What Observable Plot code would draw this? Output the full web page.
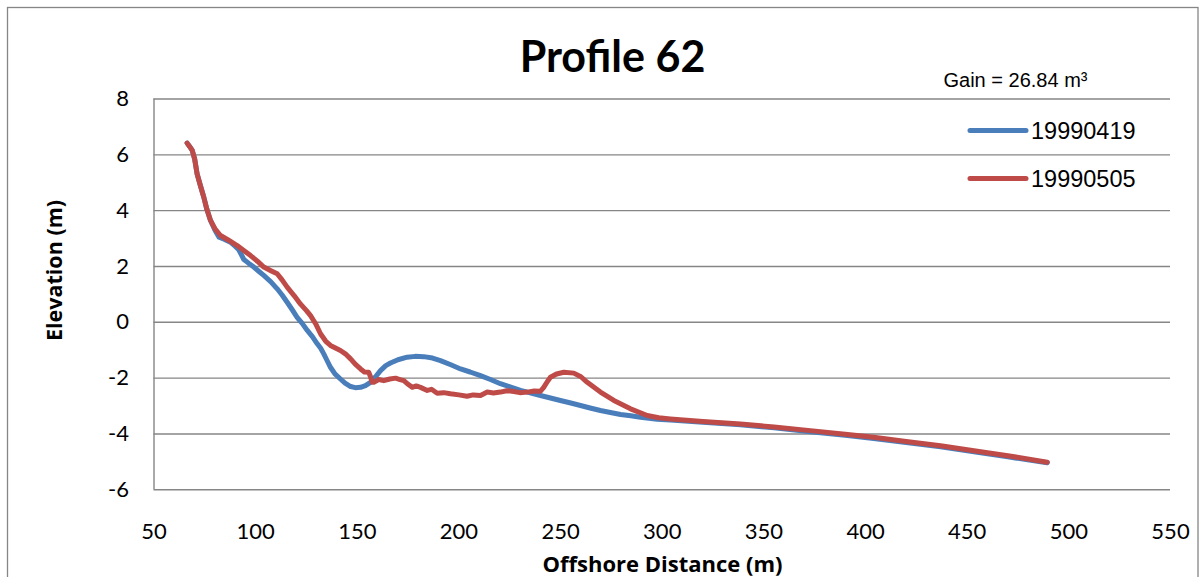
<!DOCTYPE html>
<html>
<head>
<meta charset="utf-8">
<script src="https://cdn.jsdelivr.net/npm/d3@7"></script>
<script src="https://cdn.jsdelivr.net/npm/@observablehq/plot@0.6"></script>
<style>
  html, body { margin: 0; padding: 0; background: #fff; }
</style>
</head>
<body>
<div id="chart"></div>
<script>
// ---- data ----
const titleText = "Profile 62";
const gainText = "Gain = 26.84 m³";
const xLabel = "Offshore Distance (m)";
const yLabel = "Elevation (m)";
const seriesNames = ["19990419", "19990505"];
const seriesColors = ["#4A7EBB", "#BE4B48"];
const xTicks = [50, 100, 150, 200, 250, 300, 350, 400, 450, 500, 550];
const yTicks = [-6, -4, -2, 0, 2, 4, 6, 8];

const dist19990419 = [66.3, 67.5, 68.8, 70.0, 71.2, 72.8, 74.5, 76.0, 77.8, 80.0, 82.0, 84.5, 87.6, 90.0, 91.7, 93.0, 94.2, 96.5, 99.1, 101.5, 104.0, 107.5, 110.6, 113.0, 115.5, 118.0, 120.4, 122.8, 125.4, 128.0, 130.3, 132.0, 133.5, 135.0, 136.8, 139.0, 141.7, 144.0, 146.7, 149.0, 151.6, 154.0, 156.5, 159.0, 161.4, 164.0, 166.3, 170.0, 174.5, 178.5, 182.7, 187.0, 190.9, 196.0, 200.8, 205.5, 210.6, 215.5, 220.4, 225.5, 230.3, 235.0, 240.1, 245.0, 249.9, 255.0, 259.8, 264.5, 269.6, 274.5, 279.5, 284.5, 289.3, 297.5, 304.0, 320.0, 338.5, 355.0, 372.9, 390.0, 404.0, 420.0, 436.9, 455.0, 470.0, 489.4];
const elev19990419 = [6.42, 6.30, 6.16, 5.85, 5.32, 4.90, 4.48, 4.05, 3.65, 3.30, 3.05, 2.98, 2.87, 2.72, 2.60, 2.42, 2.25, 2.12, 1.98, 1.83, 1.68, 1.45, 1.20, 0.98, 0.72, 0.45, 0.18, -0.03, -0.29, -0.52, -0.77, -0.93, -1.13, -1.35, -1.61, -1.85, -2.03, -2.18, -2.30, -2.34, -2.33, -2.27, -2.15, -1.95, -1.73, -1.55, -1.46, -1.34, -1.25, -1.22, -1.23, -1.28, -1.37, -1.52, -1.67, -1.78, -1.91, -2.05, -2.20, -2.32, -2.44, -2.53, -2.62, -2.71, -2.80, -2.89, -2.98, -3.07, -3.16, -3.23, -3.30, -3.35, -3.40, -3.47, -3.50, -3.58, -3.67, -3.78, -3.92, -4.05, -4.16, -4.31, -4.46, -4.66, -4.82, -5.03];

const dist19990505 = [66.3, 67.5, 68.8, 70.0, 71.2, 72.8, 74.5, 76.0, 77.8, 80.0, 82.7, 86.5, 90.9, 94.0, 97.5, 101.0, 104.0, 107.5, 110.6, 113.0, 115.5, 119.0, 122.0, 125.0, 127.0, 129.5, 131.9, 134.5, 136.8, 139.5, 141.7, 144.5, 146.7, 149.0, 151.6, 153.5, 155.6, 156.5, 157.3, 158.1, 160.5, 163.0, 166.0, 168.8, 171.0, 172.9, 175.0, 177.0, 179.0, 181.1, 184.4, 186.5, 189.3, 192.5, 195.8, 200.0, 204.0, 207.0, 210.6, 212.5, 213.9, 217.0, 220.4, 223.5, 227.0, 230.0, 233.6, 237.0, 240.1, 241.7, 243.5, 245.0, 248.0, 251.6, 256.5, 260.0, 263.1, 269.6, 276.2, 284.4, 292.6, 298.3, 304.0, 320.0, 338.5, 355.0, 372.9, 390.0, 404.0, 420.0, 436.9, 455.0, 470.0, 489.4];
const elev19990505 = [6.42, 6.30, 6.16, 5.85, 5.32, 4.90, 4.48, 4.05, 3.65, 3.35, 3.11, 2.95, 2.75, 2.58, 2.39, 2.18, 1.98, 1.85, 1.74, 1.52, 1.26, 0.95, 0.66, 0.42, 0.24, -0.05, -0.41, -0.68, -0.83, -0.93, -1.01, -1.15, -1.31, -1.50, -1.67, -1.78, -1.79, -1.95, -2.15, -2.15, -2.05, -2.09, -2.03, -2.00, -2.05, -2.09, -2.22, -2.33, -2.28, -2.33, -2.44, -2.40, -2.54, -2.52, -2.56, -2.60, -2.65, -2.60, -2.62, -2.55, -2.50, -2.53, -2.50, -2.45, -2.48, -2.52, -2.50, -2.46, -2.47, -2.33, -2.12, -1.97, -1.85, -1.79, -1.82, -1.95, -2.15, -2.50, -2.80, -3.10, -3.34, -3.42, -3.46, -3.55, -3.64, -3.75, -3.88, -4.01, -4.12, -4.27, -4.42, -4.62, -4.78, -5.01];

// ---- build table ----
const rows = [
  ...dist19990419.map((d, i) => ({series: seriesNames[0], dist: d, elev: elev19990419[i]})),
  ...dist19990505.map((d, i) => ({series: seriesNames[1], dist: d, elev: elev19990505[i]}))
];

const W = 1204, H = 577;
const mL = 153.5, mR = 34, mT = 98.5, mB = 87.7;
const grid = "#868686";
const calibri = "Lato, 'Open Sans', sans-serif";
const labelFont = "'Open Sans', Lato, sans-serif";
const arial = "'Liberation Sans', Arial, sans-serif";

const legendMark = (index, scales, values, dims) => {
  const g = d3.create("svg:g");
  seriesNames.forEach((name, i) => {
    const y = 130.5 + i * 48;
    g.append("line")
      .attr("x1", 970).attr("x2", 1026)
      .attr("y1", y).attr("y2", y)
      .attr("stroke", seriesColors[i])
      .attr("stroke-width", 5)
      .attr("stroke-linecap", "round");
    g.append("text")
      .attr("x", 1031).attr("y", y)
      .attr("dy", "0.36em")
      .attr("text-anchor", "start")
      .attr("font-family", arial)
      .attr("font-size", 23.5)
      .attr("fill", "#000")
      .text(name);
  });
  return g.node();
};

const chart = Plot.plot({
  width: W,
  height: H,
  marginLeft: mL,
  marginRight: mR,
  marginTop: mT,
  marginBottom: mB,
  style: {fontFamily: calibri, fontSize: "22px", background: "#fff", color: "#000", overflow: "visible"},
  x: {domain: [50, 550], label: null},
  y: {domain: [-6, 8], label: null},
  color: {domain: seriesNames, range: seriesColors},
  marks: [
    Plot.frame({stroke: grid, strokeWidth: 1.3, insetLeft: -146.5, insetTop: -91.5, insetRight: -(1197.5 - (W - mR)), insetBottom: -120}),
    Plot.gridY(yTicks, {stroke: grid, strokeOpacity: 1, strokeWidth: 1.4}),
    Plot.ruleX([50], {stroke: grid, strokeWidth: 1.4}),
    Plot.axisY(yTicks, {tickSize: 0, tickPadding: 25, fontSize: 22, fill: "#000", label: null, fontFamily: calibri, tickFormat: d => String(d)}),
    Plot.axisX(xTicks, {tickSize: 0, tickPadding: 34, fontSize: 22, fill: "#000", label: null, fontFamily: calibri, tickFormat: d => String(d)}),
    Plot.line(rows, {x: "dist", y: "elev", z: "series", stroke: "series", strokeWidth: 5, strokeLinecap: "round", strokeLinejoin: "round"}),
    Plot.text([titleText], {text: d => d, frameAnchor: "top-left", dx: 612 - mL, dy: 58 - mT, textAnchor: "middle", lineAnchor: "middle", fontSize: 43, fontWeight: "bold", fontFamily: calibri, fill: "#000"}),
    Plot.text([gainText], {text: d => d, frameAnchor: "top-left", dx: 943 - mL, dy: 80 - mT, textAnchor: "start", lineAnchor: "middle", fontSize: 20, fontFamily: arial, fill: "#000"}),
    Plot.text([xLabel], {text: d => d, frameAnchor: "bottom-left", dx: 662 - mL, dy: 564 - (H - mB), textAnchor: "middle", lineAnchor: "middle", fontSize: 22, fontWeight: "bold", fontFamily: labelFont, fill: "#000"}),
    Plot.text([yLabel], {text: d => d, frameAnchor: "top-left", dx: 55 - mL, dy: 270 - mT, rotate: -90, textAnchor: "middle", lineAnchor: "middle", fontSize: 21.5, fontWeight: "bold", fontFamily: labelFont, fill: "#000"}),
    legendMark
  ]
});

document.getElementById("chart").appendChild(chart);
</script>
</body>
</html>
